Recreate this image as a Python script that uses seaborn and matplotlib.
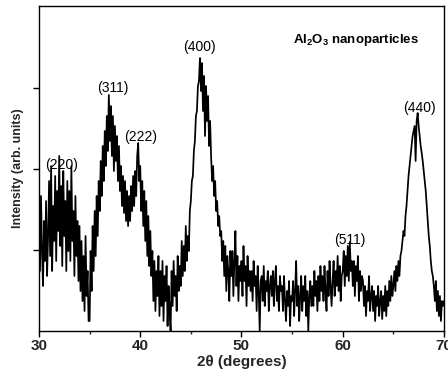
import matplotlib
matplotlib.use("Agg")
import matplotlib.pyplot as plt
import numpy as np
import pandas as pd
import seaborn as sns
from matplotlib.ticker import MultipleLocator

# 2theta grid start/stop/step
two_theta_start = 30.0
two_theta_step = 0.1

# intensity (arb. units), 10 values per degree
intensity = [
    # 30-31
    120, 60, 135, 80, 45, 110, 70, 130, 55, 95,
    # 31-32
    150, 75, 165, 60, 125, 90, 155, 70, 140, 100,
    # 32-33
    175, 85, 145, 65, 160, 95, 130, 60, 150, 80,
    # 33-34
    140, 70, 165, 90, 120, 55, 135, 75, 110, 50,
    # 34-35
    105, 40, 90, 30, 75, 20, 95, 35, 60, 10,
    # 35-36
    10, 80, 40, 105, 60, 120, 75, 135, 95, 150,
    # 36-37
    120, 170, 135, 185, 150, 200, 165, 215, 180, 236,
    # 37-38
    190, 225, 175, 215, 160, 205, 170, 195, 150, 185,
    # 38-39
    140, 165, 125, 155, 118, 150, 110, 140, 105, 135,
    # 39-40
    110, 145, 120, 155, 125, 160, 135, 175, 188, 150,
    # 40-41
    165, 120, 150, 105, 140, 90, 130, 75, 115, 65,
    # 41-42
    100, 55, 80, 30, 70, 20, 60, 35, 75, 15,
    # 42-43
    60, 25, 70, 10, 55, 30, 65, 5, 45, 20,
    # 43-44
    0, 60, 25, 70, 35, 55, 20, 75, 40, 65,
    # 44-45
    45, 90, 55, 85, 60, 105, 70, 95, 80, 120,
    # 45-46
    130, 150, 155, 180, 190, 215, 220, 245, 250, 273,
    # 46-47
    240, 268, 220, 255, 195, 245, 210, 235, 185, 210,
    # 47-48
    175, 150, 165, 135, 150, 120, 130, 105, 115, 95,
    # 48-49
    100, 70, 90, 55, 85, 40, 75, 60, 30, 80,
    # 49-50
    55, 80, 35, 70, 100, 45, 75, 30, 65, 50,
    # 50-51
    70, 35, 85, 50, 65, 25, 75, 45, 60, 40,
    # 51-52
    60, 30, 70, 45, 55, 20, 65, 40, 0, 50,
    # 52-53
    55, 30, 65, 25, 50, 40, 60, 20, 45, 55,
    # 53-54
    35, 60, 25, 50, 65, 30, 45, 20, 55, 40,
    # 54-55
    45, 20, 55, 30, 10, 40, 25, 50, 5, 35,
    # 55-56
    30, 50, 15, 40, 70, 25, 45, 10, 35, 55,
    # 56-57
    20, 45, 30, 55, 15, 40, 0, 35, 50, 25,
    # 57-58
    45, 25, 60, 35, 50, 20, 55, 30, 65, 40,
    # 58-59
    55, 30, 65, 40, 20, 60, 35, 70, 45, 25,
    # 59-60
    50, 70, 35, 60, 45, 75, 40, 65, 30, 55,
    # 60-61
    60, 80, 45, 75, 55, 85, 50, 89, 60, 70,
    # 61-62
    45, 70, 35, 65, 50, 75, 30, 60, 40, 55,
    # 62-63
    50, 25, 45, 15, 40, 30, 55, 20, 35, 45,
    # 63-64
    20, 40, 10, 35, 25, 45, 15, 30, 40, 12,
    # 64-65
    35, 20, 45, 15, 40, 25, 50, 30, 55, 35,
    # 65-66
    45, 60, 40, 65, 50, 70, 55, 75, 80, 90,
    # 66-67
    100, 95, 115, 125, 140, 155, 165, 175, 185, 195,
    # 67-68
    200, 205, 170, 210, 218, 205, 195, 185, 178, 170,
    # 68-69
    160, 150, 140, 125, 110, 95, 85, 70, 60, 55,
    # 69-70
    45, 30, 50, 20, 40, 15, 35, 10, 30, 25, 30,
]

peak_labels = ["(220)", "(311)", "(222)", "(400)", "(511)", "(440)"]
peak_x = [32.2, 37.3, 40.0, 45.8, 60.7, 67.6]
peak_y = [166, 243, 194, 284, 91, 223]

x_ticks = [30, 40, 50, 60, 70]

two_theta = [round(two_theta_start + i * two_theta_step, 1) for i in range(len(intensity))]
df = pd.DataFrame({"two_theta": two_theta, "intensity": intensity})

sns.set_style("ticks")
plt.rcParams["font.family"] = ["Liberation Sans", "DejaVu Sans"]
plt.rcParams["mathtext.fontset"] = "custom"
plt.rcParams["mathtext.rm"] = "Liberation Sans"
plt.rcParams["mathtext.bf"] = "Liberation Sans:bold"

fig = plt.figure(figsize=(4.48, 3.87), dpi=100)
ax = fig.add_axes([0.087, 0.1447, 0.904, 0.8398])

sns.lineplot(data=df, x="two_theta", y="intensity", ax=ax, color="black",
             linewidth=1.25, estimator=None, sort=False)

ax.set_xlim(30, 70)
ax.set_ylim(0, 325)
ax.set_xticks(x_ticks)
ax.set_xticklabels([str(t) for t in x_ticks], fontsize=11, fontweight="bold")
ax.xaxis.set_minor_locator(MultipleLocator(5))
ax.set_yticks([81, 162, 243])
ax.set_yticklabels([])
ax.tick_params(axis="both", which="major", direction="out", length=4, width=1, pad=2, color="black")
ax.tick_params(axis="x", which="minor", direction="out", length=2.5, width=1)

for s in ax.spines.values():
    s.set_visible(True)
    s.set_linewidth(1.0)
    s.set_color("black")

ax.set_xlabel("2θ (degrees)", fontsize=11, fontweight="bold", labelpad=1)
ax.set_ylabel("Intensity (arb. units)", fontsize=9, fontweight="bold", labelpad=5)

for lbl, px, py in zip(peak_labels, peak_x, peak_y):
    ax.text(px, py, lbl, ha="center", va="center", fontsize=10, color="black")

ax.text(55.1, 291, r"$\mathbf{Al_2O_3}$ nanoparticles", ha="left", va="center",
        fontsize=9.5, fontweight="bold", color="black")

fig.savefig("out.png", dpi=100)
